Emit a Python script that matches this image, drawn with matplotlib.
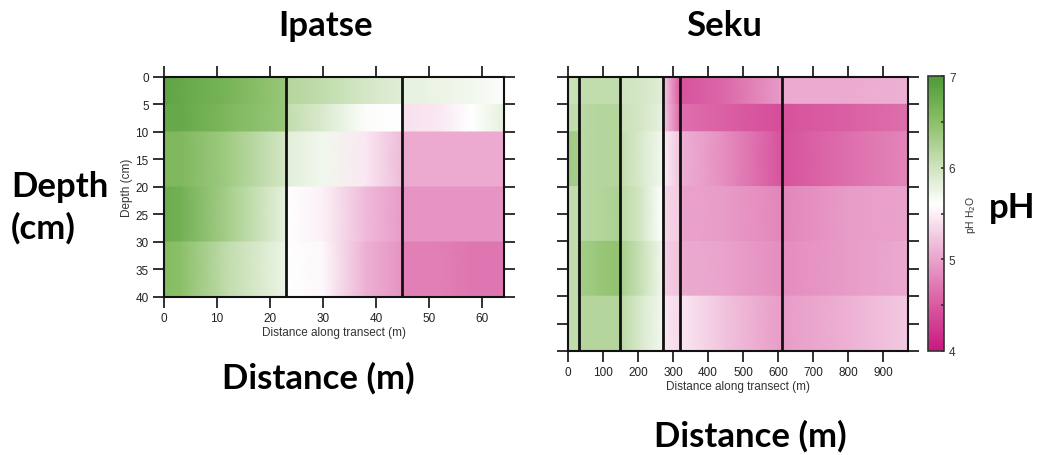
import numpy as np
import matplotlib
matplotlib.use("Agg")
import matplotlib.pyplot as plt
from matplotlib.colors import LinearSegmentedColormap, Normalize
from matplotlib.cm import ScalarMappable
from matplotlib.ticker import MultipleLocator

plt.rcParams["font.family"] = ["Liberation Sans", "DejaVu Sans"]

# depth bands (cm)
ipatse_bands = [0, 5, 10, 20, 30, 40]
seku_bands = [0, 5, 10, 20, 30, 40, 50]

# sample positions along transect (m); repeated x = break at a plot boundary
ipatse_x = [0, 3, 12, 23, 23, 30, 38, 45, 45, 52, 58, 64]
ipatse_ph = [
    [6.85, 6.8, 6.65, 6.4, 6.2, 6.1, 5.95, 5.85, 5.8, 5.75, 5.7, 5.62],
    [6.8, 6.8, 6.6, 6.4, 6.1, 5.9, 5.62, 5.6, 5.4, 5.45, 5.6, 5.8],
    [6.6, 6.6, 6.35, 5.95, 5.85, 5.7, 5.45, 5.15, 5.05, 5.05, 5.05, 5.05],
    [6.75, 6.7, 6.3, 5.8, 5.6, 5.5, 5.15, 4.95, 4.9, 4.9, 4.9, 4.9],
    [6.55, 6.5, 6.1, 5.75, 5.6, 5.55, 5.1, 4.9, 4.75, 4.75, 4.7, 4.7],
]
ipatse_lines = [23, 45]

seku_x = [0, 32, 32, 90, 150, 150, 210, 271, 271, 321, 321, 450, 611, 611, 800, 970]
seku_ph = [
    [6.05, 6.05, 6.1, 6.1, 6.1, 6.0, 5.95, 5.85, 5.3, 4.5, 4.45, 4.6, 4.95, 5.05, 5.05, 5.1],
    [6.1, 6.1, 6.15, 6.2, 6.2, 6.05, 5.95, 5.8, 5.3, 4.6, 4.65, 4.55, 4.4, 4.45, 4.55, 4.65],
    [6.35, 6.3, 6.15, 6.2, 6.2, 6.1, 5.9, 5.7, 5.5, 5.2, 5.1, 4.85, 4.45, 4.45, 4.65, 4.8],
    [6.1, 6.1, 6.15, 6.2, 6.25, 6.15, 5.95, 5.6, 5.35, 5.25, 5.0, 4.95, 4.8, 4.8, 4.95, 5.0],
    [6.1, 6.1, 6.3, 6.4, 6.45, 6.3, 6.05, 5.7, 5.3, 5.2, 5.05, 5.0, 4.85, 4.85, 4.95, 5.05],
    [6.1, 6.1, 6.2, 6.2, 6.2, 6.15, 5.9, 5.7, 5.45, 5.35, 5.45, 5.2, 4.95, 4.95, 5.1, 5.25],
]
seku_lines = [32, 150, 271, 321, 611]

ph_min, ph_max = 4, 7
cmap = LinearSegmentedColormap.from_list("ph", [
    (0.0, "#c8187f"),
    (0.5 / 3, "#d95aa0"),
    (1.0 / 3, "#eaa3cc"),
    (1.6 / 3, "#ffffff"),
    (2.0 / 3, "#cfe4bf"),
    (2.5 / 3, "#8cc068"),
    (1.0, "#4c9a36"),
])
norm = Normalize(ph_min, ph_max)


def draw_site(ax, xs, bands, ph, lines, xmax, xstep, show_ylabels):
    for i in range(len(bands) - 1):
        X = np.array([xs, xs], dtype=float)
        Y = np.array([[bands[i]] * len(xs), [bands[i + 1]] * len(xs)], dtype=float)
        C = np.array([ph[i], ph[i]])
        ax.pcolormesh(X, Y, C, shading="gouraud", cmap=cmap, norm=norm)
    for xl in lines:
        ax.axvline(xl, color="#111111", linewidth=2)
    ax.set_xlim(0, xmax)
    ax.set_ylim(bands[-1], 0)
    ax.xaxis.set_major_locator(MultipleLocator(xstep))
    ax.yaxis.set_major_locator(MultipleLocator(5))
    ax.tick_params(direction="out", length=8, width=1.3, labelsize=8.5,
                   top=True, right=True, pad=3, colors="#222222")
    if not show_ylabels:
        ax.tick_params(labelleft=False)
    for s in ax.spines.values():
        s.set_linewidth(1.5)
        s.set_color("#111111")
    ax.set_xlabel("Distance along transect (m)", fontsize=8.5, labelpad=1, color="#333333")


fig = plt.figure(figsize=(10.4, 4.56), dpi=100)
ax1 = fig.add_axes([0.1577, 0.3465, 0.327, 0.4825])
ax2 = fig.add_axes([0.5459, 0.2281, 0.327, 0.601])
cax = fig.add_axes([0.8923, 0.2281, 0.0154, 0.603])

draw_site(ax1, ipatse_x, ipatse_bands, ipatse_ph, ipatse_lines, 64.2, 10, True)
ax1.set_ylabel("Depth (cm)", fontsize=8.5, labelpad=2, color="#333333")
draw_site(ax2, seku_x, seku_bands, seku_ph, seku_lines, 970, 100, False)

cb = fig.colorbar(ScalarMappable(norm=norm, cmap=cmap), cax=cax)
cb.set_ticks([4, 5, 6, 7])
cb.ax.yaxis.set_minor_locator(MultipleLocator(0.5))
cb.ax.tick_params(which="both", direction="in", length=2, width=1.2, labelsize=8.5, colors="#333333")
cb.outline.set_linewidth(1.2)
cb.outline.set_edgecolor("#333333")
cb.set_label("pH H$_2$O", fontsize=7.5, labelpad=6, color="#333333")

big = dict(family=["Lato", "DejaVu Sans"], fontweight="bold", fontsize=25, va="center")
fig.text(326 / 1040, 1 - 26 / 456, "Ipatse", ha="center", **big)
fig.text(724 / 1040, 1 - 26 / 456, "Seku", ha="center", **big)
fig.text(11 / 1040, 1 - 208 / 456, "Depth\n(cm)", ha="left", linespacing=1.35, **big)
fig.text(1012 / 1040, 1 - 208 / 456, "pH", ha="center", **big)
fig.text(318 / 1040, 1 - 378 / 456, "Distance (m)", ha="center", **big)
fig.text(750 / 1040, 1 - 436 / 456, "Distance (m)", ha="center", **big)

fig.savefig("out.png", dpi=100)
